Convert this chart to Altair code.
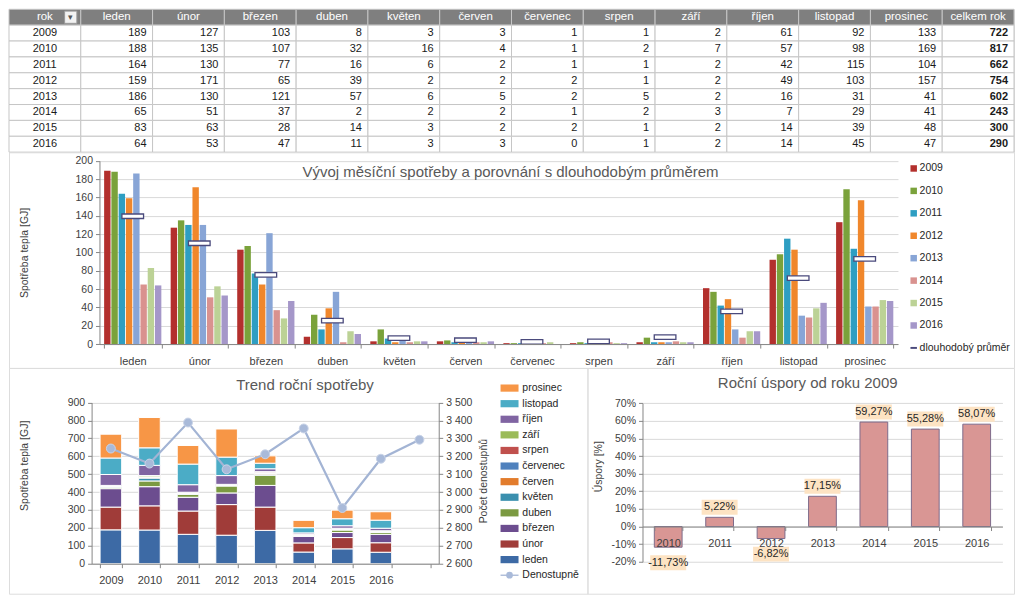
import altair as alt
import pandas as pd

# ---------------- data ----------------
YEARS = ["2009", "2010", "2011", "2012", "2013", "2014", "2015", "2016"]
MONTHS = ["leden", "únor", "březen", "duben", "květen", "červen",
          "červenec", "srpen", "září", "říjen", "listopad", "prosinec"]
USE_2009 = [189, 127, 103, 8, 3, 3, 1, 1, 2, 61, 92, 133]
USE_2010 = [188, 135, 107, 32, 16, 4, 1, 2, 7, 57, 98, 169]
USE_2011 = [164, 130, 77, 16, 6, 2, 1, 1, 2, 42, 115, 104]
USE_2012 = [159, 171, 65, 39, 2, 2, 2, 1, 2, 49, 103, 157]
USE_2013 = [186, 130, 121, 57, 6, 5, 2, 5, 2, 16, 31, 41]
USE_2014 = [65, 51, 37, 2, 2, 2, 1, 2, 3, 7, 29, 41]
USE_2015 = [83, 63, 28, 14, 3, 2, 2, 1, 2, 14, 39, 48]
USE_2016 = [64, 53, 47, 11, 3, 3, 0, 1, 2, 14, 45, 47]
USAGE = [USE_2009, USE_2010, USE_2011, USE_2012, USE_2013, USE_2014, USE_2015, USE_2016]
TOTALS = [722, 817, 662, 754, 602, 243, 300, 290]
LONG_TERM_AVG = [139.5, 110, 75.5, 25.5, 6.6, 4.2, 2.4, 3, 7.5, 35.6, 72, 93]
DD_CATS = YEARS + [" "]
DEGREE_DAYS = [3243, 3159, 3388, 3127, 3211, 3355, 2911, 3186, 3292]
SAVING_YEARS = ["2010", "2011", "2012", "2013", "2014", "2015", "2016"]
SAVINGS = [-11.73, 5.22, -6.82, 17.15, 59.27, 55.28, 58.07]
TABLE_COLS = ["rok"] + MONTHS + ["celkem rok"]

TITLE_TOP = "Vývoj měsíční spotřeby a porovnání s dlouhodobým průměrem"
TITLE_BL = "Trend roční spotřeby"
TITLE_BR = "Roční úspory od roku 2009"
YT_GJ = "Spotřeba tepla [GJ]"
YT_DD = "Počet denostupňů"
YT_PCT = "Úspory [%]"
AVG_LABEL = "dlouhodobý průměr"
DD_LABEL = "Denostupně"

# ---------------- style ----------------
FONT = "Lato"
YEAR_COLORS = ["#b3302d", "#7aa23b", "#2e9ec2", "#f0872c", "#88a5d6", "#d9928f", "#bcd296", "#a597c9"]
MONTH_COLORS = ["#3d6aa5", "#a03c39", "#6c4d8f", "#7b9a42", "#3a8fae", "#e27c2c",
                "#4f81bd", "#c0504d", "#9bbb59", "#8064a2", "#4bacc6", "#f79646"]
AVG_STROKE = "#4a4a7c"
DD_COLOR = "#a3b4d4"
AXIS_TXT = "#404040"
TITLE_TXT = "#595959"
LEG_TXT = "#262626"
DOMAIN = "#868686"
GRID = "#d9d9d9"
BORDER = "#a6a6a6"

W = 1006
SX = W / 1022
SY = 585 / 609
TABLE_H = 143
TOP_H = 216
BOT_H = 226
BL_W = 579
BR_W = W - BL_W


def label(text, x, y, size=11.0, color=LEG_TXT, angle=0, align="center"):
    return alt.Chart(pd.DataFrame({"t": [text]})).mark_text(
        fontSize=size, color=color, angle=angle, align=align, baseline="middle"
    ).encode(x=alt.value(x), y=alt.value(y), text="t:N")


def x_axis(offset, padding):
    return alt.Axis(orient="bottom", offset=offset, labelAngle=0, labelFontSize=11,
                    labelColor=AXIS_TXT, labelPadding=padding, ticks=True, tickBand="extent",
                    tickSize=4, tickColor=DOMAIN, domainColor=DOMAIN, grid=False, zindex=1)


# ---------------- table ----------------
rows = []
for c in TABLE_COLS:
    rows.append(dict(row="hdr", col=c, txt=c, kind="hdr"))
for y, vals, tot in zip(YEARS, USAGE, TOTALS):
    rows.append(dict(row=y, col="rok", txt=y, kind="rok"))
    for m, v in zip(MONTHS, vals):
        rows.append(dict(row=y, col=m, txt=str(v), kind="num"))
    rows.append(dict(row=y, col="celkem rok", txt=str(tot), kind="tot"))
tdf = pd.DataFrame(rows)
ROW_DOMAIN = ["hdr"] + YEARS

tscale_x = alt.Scale(domain=TABLE_COLS, range=[0, W], paddingInner=0, paddingOuter=0)
tscale_y = alt.Scale(domain=ROW_DOMAIN, range=[0, TABLE_H], paddingInner=0, paddingOuter=0)
tx = alt.X("col:N", scale=tscale_x, axis=None)
tx_r = alt.X("col:N", scale=tscale_x, axis=None, bandPosition=1)
ty = alt.Y("row:N", scale=tscale_y, axis=None)

tbase = alt.Chart(tdf)
cells = tbase.mark_rect(stroke="#c6c6c6", strokeWidth=1).encode(
    x=tx, y=ty,
    fill=alt.condition("datum.row == 'hdr'", alt.value("#7f7f7f"), alt.value("white")),
)
t_hdr = tbase.transform_filter("datum.kind == 'hdr'").mark_text(
    color="white", fontSize=11.5, baseline="middle").encode(x=tx, y=ty, text="txt:N")
t_rok = tbase.transform_filter("datum.kind == 'rok'").mark_text(
    color="#1a1a1a", fontSize=11, baseline="middle").encode(x=tx, y=ty, text="txt:N")
t_num = tbase.transform_filter("datum.kind == 'num'").mark_text(
    color="#1a1a1a", fontSize=11, baseline="middle", align="right", dx=-6).encode(x=tx_r, y=ty, text="txt:N")
t_tot = tbase.transform_filter("datum.kind == 'tot'").mark_text(
    color="#1a1a1a", fontSize=11, baseline="middle", align="right", dx=-6, fontWeight="bold"
).encode(x=tx_r, y=ty, text="txt:N")
icon_df = pd.DataFrame({"row": ["hdr"], "col": ["rok"], "txt": ["▾"]})
tx_icon = alt.X("col:N", scale=tscale_x, axis=None, bandPosition=0.86)
t_icon = alt.Chart(icon_df).mark_square(size=150, fill="#f2f2f2", stroke="#9a9a9a",
                                          strokeWidth=1, opacity=1).encode(x=tx_icon, y=ty)
t_icon_txt = alt.Chart(icon_df).mark_text(fontSize=9, color="#555555", baseline="middle").encode(
    x=tx_icon, y=ty, text="txt:N")
table = alt.layer(cells, t_hdr, t_rok, t_num, t_tot, t_icon, t_icon_txt).properties(
    width=W, height=TABLE_H)


# ---------------- top chart: monthly consumption ----------------
def tY(yr):
    return (yr - 149) * SY


TOP_X = [92 * SX, 904 * SX]
TOP_Y = [tY(349), tY(158)]
mdf = pd.DataFrame([{"year": y, "month": m, "value": v}
                    for y, vals in zip(YEARS, USAGE) for m, v in zip(MONTHS, vals)])
adf = pd.DataFrame({"month": MONTHS, "value": LONG_TERM_AVG})

x_top = alt.X("month:N", title=None,
              scale=alt.Scale(domain=MONTHS, range=TOP_X, paddingInner=0.14, paddingOuter=0.07),
              axis=x_axis(-(TOP_H - TOP_Y[0]), 7))
y_top = alt.Y("value:Q", title=None,
              scale=alt.Scale(domain=[0, 200], range=TOP_Y, nice=False),
              axis=alt.Axis(orient="left", offset=-TOP_X[0], values=list(range(0, 201, 20)), grid=True,
                            gridColor=GRID, tickSize=4, tickColor=DOMAIN, domainColor=DOMAIN,
                            labelPadding=3, labelFontSize=10.5, labelColor=AXIS_TXT))
top_bars = alt.Chart(mdf).mark_bar().encode(
    x=x_top,
    xOffset=alt.XOffset("year:N", scale=alt.Scale(domain=YEARS, paddingInner=0.12)),
    y=y_top,
    color=alt.Color("year:N", scale=alt.Scale(domain=YEARS, range=YEAR_COLORS), legend=None),
)
top_avg = alt.Chart(adf).mark_tick(size=22 * SX, thickness=4.5, fill="white", stroke=AVG_STROKE,
                                   strokeWidth=1.3, opacity=1).encode(x=x_top, y=y_top)
top_inner = alt.layer(top_bars, top_avg)

top_items = YEARS + [AVG_LABEL]
ldf_top = pd.DataFrame({"item": top_items})
y_leg_top = alt.Y("item:N", scale=alt.Scale(domain=top_items, range=[tY(166), tY(353)], padding=0), axis=None)
top_leg_sym = alt.Chart(ldf_top).mark_point(filled=True, opacity=1).encode(
    x=alt.value(920 * SX), y=y_leg_top,
    color=alt.Color("item:N", scale=alt.Scale(domain=top_items, range=YEAR_COLORS + [AVG_STROKE]), legend=None),
    shape=alt.Shape("item:N", scale=alt.Scale(domain=top_items,
                                              range=["square"] * 8 + ["M-1,-0.3H1V0.3H-1Z"]), legend=None),
    size=alt.value(42),
)
top_leg_txt = alt.Chart(ldf_top).mark_text(align="left", baseline="middle", fontSize=10.5, color=LEG_TXT).encode(
    x=alt.value(926 * SX), y=y_leg_top, text="item:N")

top = alt.layer(
    top_inner, top_leg_sym, top_leg_txt,
    label(TITLE_TOP, 510 * SX, tY(170), size=15, color=TITLE_TXT),
    label(YT_GJ, 16 * SX, tY(254), size=10.5, color=AXIS_TXT, angle=270),
).resolve_scale(x="independent", y="independent", color="independent", shape="independent").properties(
    width=W, height=TOP_H)


# ---------------- bottom left: annual trend ----------------
def bY(yr):
    return (yr - 374) * SY


BL_X = [84 * SX, 437 * SX]
BL_Y = [bY(578), bY(410)]
sdf = pd.DataFrame([{"year": y, "month": m, "mi": i, "value": v}
                    for y, vals in zip(YEARS, USAGE) for i, (m, v) in enumerate(zip(MONTHS, vals))])
ddf = pd.DataFrame({"year": DD_CATS, "dd": DEGREE_DAYS})

x_bl = alt.X("year:N", title=None,
             scale=alt.Scale(domain=DD_CATS, range=BL_X, paddingInner=0.44, paddingOuter=0.22),
             axis=x_axis(-(BOT_H - BL_Y[0]), 7))
y_bl = alt.Y("value:Q", title=None, stack="zero",
             scale=alt.Scale(domain=[0, 900], range=BL_Y, nice=False),
             axis=alt.Axis(orient="left", offset=-BL_X[0], values=list(range(0, 901, 100)), grid=True,
                           gridColor=GRID, tickSize=4, tickColor=DOMAIN, domainColor=DOMAIN,
                           labelPadding=3, labelFontSize=10.5, labelColor=AXIS_TXT))
dd_scale = alt.Scale(domain=[2600, 3500], range=BL_Y, nice=False, zero=False)
y_dd = alt.Y("dd:Q", title=None, scale=dd_scale,
             axis=alt.Axis(orient="right", offset=-(BL_W - BL_X[1]), values=list(range(2600, 3501, 100)),
                           grid=False, tickSize=4, tickColor=DOMAIN, domainColor=DOMAIN, labelPadding=3,
                           labelFontSize=10.5, labelColor=AXIS_TXT,
                           labelExpr="replace(format(datum.value, ','), ',', ' ')"))
y_dd_noaxis = alt.Y("dd:Q", title=None, scale=dd_scale, axis=None)

bl_stack = alt.Chart(sdf).mark_bar(stroke="white", strokeWidth=1).encode(
    x=x_bl, y=y_bl,
    color=alt.Color("month:N", scale=alt.Scale(domain=MONTHS, range=MONTH_COLORS), legend=None),
    order=alt.Order("mi:Q", sort="ascending"),
)
bl_line = alt.Chart(ddf).mark_line(color=DD_COLOR, strokeWidth=2.2).encode(x=x_bl, y=y_dd)
bl_dots = alt.Chart(ddf).mark_circle(size=80, color="#a9bad9", stroke="#c9d3e6", strokeWidth=1,
                                     opacity=1).encode(x=x_bl, y=y_dd_noaxis)
bl_inner = alt.layer(bl_stack, bl_line, bl_dots).resolve_scale(y="independent")

bl_items = MONTHS[::-1] + [DD_LABEL]
ldf_bl = pd.DataFrame({"item": bl_items})
y_leg_bl = alt.Y("item:N", scale=alt.Scale(domain=bl_items, range=[bY(395), bY(590)], padding=0), axis=None)
bl_leg_sym = alt.Chart(ldf_bl).mark_point(filled=True, opacity=1).encode(
    x=alt.value(509 * SX), y=y_leg_bl,
    color=alt.Color("item:N", scale=alt.Scale(domain=bl_items, range=MONTH_COLORS[::-1] + [DD_COLOR]),
                    legend=None),
    shape=alt.Shape("item:N", scale=alt.Scale(domain=bl_items,
                                              range=["M-1,-0.4H1V0.4H-1Z"] * 12 + ["M-1,-0.07H1V0.07H-1Z"]),
                    legend=None),
    size=alt.value(324),
)
bl_leg_dot = alt.Chart(ldf_bl).transform_filter(alt.datum.item == DD_LABEL).mark_circle(
    size=45, color="#a9bad9", opacity=1).encode(x=alt.value(509 * SX), y=y_leg_bl)
bl_leg_txt = alt.Chart(ldf_bl).mark_text(align="left", baseline="middle", fontSize=10.5, color=LEG_TXT).encode(
    x=alt.value(522 * SX), y=y_leg_bl, text="item:N")

bottom_left = alt.layer(
    bl_inner, bl_leg_sym, bl_leg_dot, bl_leg_txt,
    label(TITLE_BL, 301 * SX, bY(392), size=15, color=TITLE_TXT),
    label(YT_GJ, 16 * SX, bY(476), size=10.5, color=AXIS_TXT, angle=270),
    label(YT_DD, 483 * SX, bY(492), size=10.5, color=AXIS_TXT, angle=270),
).resolve_scale(x="independent", y="independent", color="independent", shape="independent").properties(
    width=BL_W, height=BOT_H)

# ---------------- bottom right: savings ----------------
BR_X = [(644 - 588) * SX, (1010 - 588) * SX]
BR_Y = [bY(576), bY(410.7)]
y_zero_px = BR_Y[0] + (0 - (-20)) / 90 * (BR_Y[1] - BR_Y[0])
svdf = pd.DataFrame({"yr": SAVING_YEARS, "s": SAVINGS,
                     "lab": [f"{v:.2f}".replace(".", ",") + "%" for v in SAVINGS]})

x_br = alt.X("yr:N", title=None,
             scale=alt.Scale(domain=SAVING_YEARS, range=BR_X, paddingInner=0.46, paddingOuter=0.23),
             axis=x_axis(-(BOT_H - y_zero_px), 7))
y_br = alt.Y("s:Q", title=None,
             scale=alt.Scale(domain=[-20, 70], range=BR_Y, nice=False),
             axis=alt.Axis(orient="left", offset=-BR_X[0], values=list(range(-20, 71, 10)), grid=True,
                           gridColor=GRID, tickSize=4, tickColor=DOMAIN, domainColor=DOMAIN,
                           labelPadding=3, labelFontSize=10.5, labelColor=AXIS_TXT,
                           labelExpr="datum.value + '%'"))
br_bars = alt.Chart(svdf).mark_bar(fill="#d99694", stroke="#7d6b8b", strokeWidth=1).encode(x=x_br, y=y_br)
BOX = 36
br_box_pos = alt.Chart(svdf).transform_filter("datum.s >= 0").mark_point(
    shape="M-1,-0.972H1V-0.139H-1Z", size=BOX * BOX, filled=True, fill="#fde3c3", opacity=1,
    strokeWidth=0).encode(x=x_br, y=y_br)
br_box_neg = alt.Chart(svdf).transform_filter("datum.s < 0").mark_point(
    shape="M-1,0.45H1V1.28H-1Z", size=BOX * BOX, filled=True, fill="#fde3c3", opacity=1,
    strokeWidth=0).encode(x=x_br, y=y_br)
br_txt_pos = alt.Chart(svdf).transform_filter("datum.s >= 0").mark_text(
    dy=-10, fontSize=11, color=LEG_TXT, baseline="middle").encode(x=x_br, y=y_br, text="lab:N")
br_txt_neg = alt.Chart(svdf).transform_filter("datum.s < 0").mark_text(
    dy=15.5, fontSize=11, color=LEG_TXT, baseline="middle").encode(x=x_br, y=y_br, text="lab:N")
br_inner = alt.layer(br_bars, br_box_pos, br_box_neg, br_txt_pos, br_txt_neg)

bottom_right = alt.layer(
    br_inner,
    label(TITLE_BR, (812 - 588) * SX, bY(390), size=15, color=TITLE_TXT),
    label(YT_PCT, (600 - 588) * SX, bY(477), size=10.5, color=AXIS_TXT, angle=270),
).properties(width=BR_W, height=BOT_H)

bottom = alt.HConcatChart(hconcat=[bottom_left, bottom_right], spacing=0, bounds="flush")
chart = alt.VConcatChart(vconcat=[table, top, bottom], spacing=0, bounds="flush", padding=0)
chart = chart.configure_view(stroke=BORDER, strokeWidth=1).configure_text(font=FONT).configure_axis(
    labelFont=FONT, titleFont=FONT).configure(background="white")

chart.save("out.html", embed_options={"renderer": "svg", "actions": False})
